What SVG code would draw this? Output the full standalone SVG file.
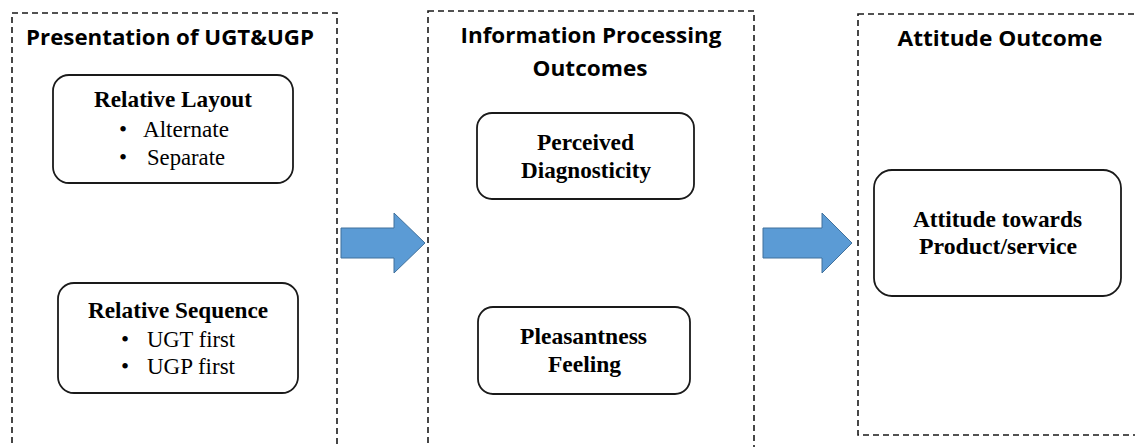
<svg xmlns="http://www.w3.org/2000/svg" width="1135" height="447" viewBox="0 0 1135 447">
  <style>
    .panel { fill: none; stroke: #1a1a1a; stroke-width: 1.6; stroke-dasharray: 6 4; }
    .box { fill: #ffffff; stroke: #1a1a1a; stroke-width: 1.8; }
    .title { font-family: "Open Sans", "Liberation Sans", sans-serif; font-weight: bold; font-size: 21px; fill: #000; text-anchor: middle; }
    .label { font-family: "Liberation Serif", "Times New Roman", serif; font-weight: bold; font-size: 23px; fill: #000; }
    .item { font-family: "Liberation Serif", "Times New Roman", serif; font-size: 23px; fill: #000; }
    .arrow { fill: #5B9BD5; stroke: #41719C; stroke-width: 1; }
  </style>

  <rect width="1135" height="447" fill="#ffffff"/>

  <!-- Dashed stage panels -->
  <g id="panel-presentation">
    <rect class="panel" x="12" y="13" width="325" height="460"/>
    <text class="title" x="170" y="45" textLength="288" lengthAdjust="spacingAndGlyphs">Presentation of UGT&amp;UGP</text>
  </g>
  <g id="panel-information">
    <rect class="panel" x="428" y="11" width="326" height="460"/>
    <text class="title" x="591" y="43" textLength="261" lengthAdjust="spacingAndGlyphs">Information Processing</text>
    <text class="title" x="590" y="76" textLength="115" lengthAdjust="spacingAndGlyphs">Outcomes</text>
  </g>
  <g id="panel-attitude">
    <rect class="panel" x="858" y="14" width="290" height="421"/>
    <text class="title" x="1000" y="46" textLength="205" lengthAdjust="spacingAndGlyphs">Attitude Outcome</text>
  </g>

  <!-- Nodes -->
  <g id="node-relative-layout">
    <rect class="box" x="53" y="75" width="240" height="108" rx="16"/>
    <text class="label" x="94" y="107" textLength="158" lengthAdjust="spacingAndGlyphs">Relative Layout</text>
    <text class="item" x="119" y="137">•</text>
    <text class="item" x="143" y="137" textLength="86" lengthAdjust="spacingAndGlyphs">Alternate</text>
    <text class="item" x="119" y="165">•</text>
    <text class="item" x="147" y="165" textLength="78" lengthAdjust="spacingAndGlyphs">Separate</text>
  </g>
  <g id="node-relative-sequence">
    <rect class="box" x="58" y="283" width="240" height="110" rx="16"/>
    <text class="label" x="88" y="318" textLength="180" lengthAdjust="spacingAndGlyphs">Relative Sequence</text>
    <text class="item" x="121" y="347">•</text>
    <text class="item" x="147" y="347" textLength="88" lengthAdjust="spacingAndGlyphs">UGT first</text>
    <text class="item" x="121" y="374">•</text>
    <text class="item" x="147" y="374" textLength="88" lengthAdjust="spacingAndGlyphs">UGP first</text>
  </g>
  <g id="node-perceived-diagnosticity">
    <rect class="box" x="477" y="113" width="217" height="86" rx="15"/>
    <text class="label" x="537" y="150" textLength="97" lengthAdjust="spacingAndGlyphs">Perceived</text>
    <text class="label" x="521" y="178" textLength="130" lengthAdjust="spacingAndGlyphs">Diagnosticity</text>
  </g>
  <g id="node-pleasantness-feeling">
    <rect class="box" x="478" y="307" width="212" height="87" rx="15"/>
    <text class="label" x="520" y="344" textLength="127" lengthAdjust="spacingAndGlyphs">Pleasantness</text>
    <text class="label" x="548" y="372" textLength="73" lengthAdjust="spacingAndGlyphs">Feeling</text>
  </g>
  <g id="node-attitude">
    <rect class="box" x="874" y="170" width="247" height="126" rx="18"/>
    <text class="label" x="913" y="227" textLength="169" lengthAdjust="spacingAndGlyphs">Attitude towards</text>
    <text class="label" x="919" y="254" textLength="158" lengthAdjust="spacingAndGlyphs">Product/service</text>
  </g>

  <!-- Connectors: block arrows between stages -->
  <g id="connectors">
    <path class="arrow" d="M341,228 H394 V213 L425,243 L394,273 V258 H341 Z"/>
    <path class="arrow" d="M763,228 H822 V213 L852,243 L822,273 V258 H763 Z"/>
  </g>
</svg>
